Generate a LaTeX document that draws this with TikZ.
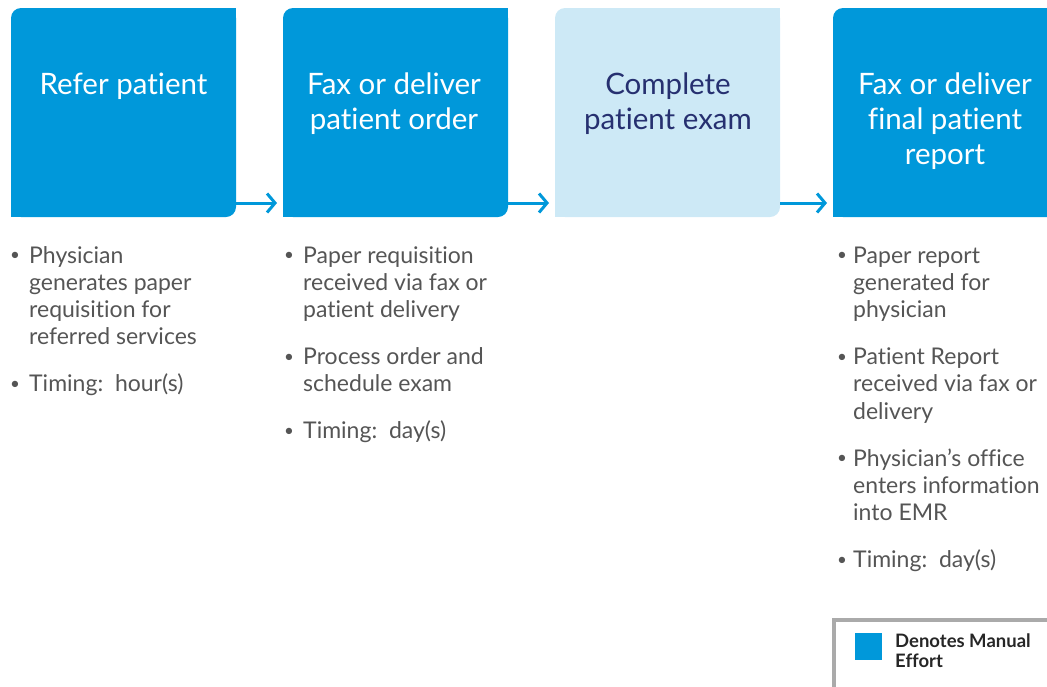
\documentclass[tikz,border=0pt]{standalone}
\usepackage{fontspec}
\setmainfont{Lato}[Ligatures={NoCommon,NoContextual}]
\usetikzlibrary{arrows.meta}
\definecolor{mblue}{RGB}{0,152,218}
\definecolor{lblue}{RGB}{205,233,246}
\definecolor{navy}{RGB}{38,48,112}
\definecolor{bodygray}{RGB}{85,85,85}
\definecolor{framegray}{RGB}{170,170,170}
\newcommand\tlines[1]{\begin{tabular}[t]{@{}c@{}}#1\end{tabular}}
\newcommand\bullist[2]{\begin{tabular}[t]{@{}p{#1}@{}l@{}}#2\end{tabular}}
\newcommand\bul{\hspace*{1pt}\raisebox{2.5pt}{\fontsize{17}{17}\selectfont •}}
\begin{document}
\begin{tikzpicture}[x=1pt,y=-1pt,
  boxnode/.style={minimum width=225pt, minimum height=209pt, inner sep=0pt, outer sep=0pt, anchor=north west},
  titletext/.style={anchor=base, inner sep=0pt, text=white, font=\fontsize{29.5}{35}\selectfont},
  bodytext/.style={anchor=base west, inner sep=0pt, text=bodygray, font=\fontsize{23}{27.3}\selectfont},
  arr/.style={draw=mblue, line width=3pt, -{Straight Barb[length=8pt,width=19pt]}},
]
\useasboundingbox (0,0) rectangle (1047,686);
% step boxes
\node[boxnode] (b1) at (11,8) {};
\node[boxnode] (b2) at (283,8) {};
\node[boxnode] (b3) at (555,8) {};
\node[boxnode] (b4) at (833,8) {};
\foreach \n/\c in {b1/mblue,b2/mblue,b3/lblue,b4/mblue}{
  \fill[\c, rounded corners=10pt] (\n.north west) rectangle (\n.south east);
  \fill[\c] ([xshift=-20pt]\n.north east) rectangle ([yshift=-20pt]\n.north east);
  \fill[\c] ([yshift=20pt]\n.south west) rectangle ([xshift=20pt]\n.south west);
}
% titles
\node[titletext] (t1) at (123.5,94) {\tlines{Refer patient}};
\node[titletext] (t2) at (394,94) {\tlines{Fax or deliver\\patient order}};
\node[titletext, text=navy] (t3) at (668,94) {\tlines{Complete\\patient exam}};
\node[titletext] (t4) at (945,94) {\tlines{Fax or deliver\\final patient\\report}};
% arrows
\draw[arr] ([yshift=14pt]b1.south east) -- ([yshift=14pt,xshift=-6pt]b2.south west);
\draw[arr] ([yshift=14pt]b2.south east) -- ([yshift=14pt,xshift=-6pt]b3.south west);
\draw[arr] ([yshift=14pt]b3.south east) -- ([yshift=14pt,xshift=-6pt]b4.south west);
% bullet lists
\node[bodytext] (l1) at (9,263) {\bullist{20pt}{\bul&Physician\\&generates paper\\&requisition for\\&referred services\\[19.7pt]\bul&Timing:~~hour(s)}};
\node[bodytext] (l2) at (283,263) {\bullist{20pt}{\bul&Paper requisition\\&received via fax or\\&patient delivery\\[19.7pt]\bul&Process order and\\&schedule exam\\[19.7pt]\bul&Timing:~~day(s)}};
\node[bodytext] (l4) at (836,263) {\bullist{17pt}{\bul&Paper report\\&generated for\\&physician\\[19.7pt]\bul&Patient Report\\&received via fax or\\&delivery\\[19.7pt]\bul&Physician’s office\\&enters information\\&into EMR\\[19.7pt]\bul&Timing:~~day(s)}};
% legend
\draw[framegray, line width=4pt] (834,690) -- (834,620) -- (1050,620);
\node[fill=mblue, minimum size=27pt, inner sep=0pt, anchor=north west] (sq) at (855,633) {};
\node[anchor=base west, inner sep=0pt, font=\bfseries\fontsize{18.5}{20.5}\selectfont, text=black!85] (lg) at (895,647) {\begin{tabular}[t]{@{}l@{}}Denotes Manual\\Effort\end{tabular}};
\end{tikzpicture}
\end{document}
